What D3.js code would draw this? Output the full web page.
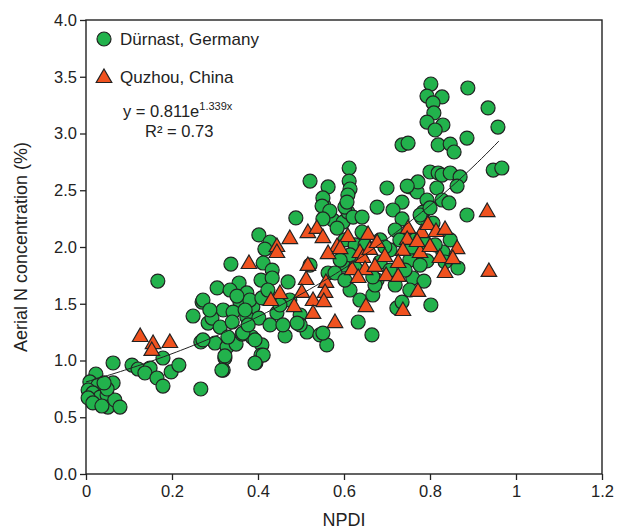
<!DOCTYPE html>
<html>
<head>
<meta charset="utf-8">
<script src="https://cdn.jsdelivr.net/npm/d3@7"></script>
<style>
  body { margin: 0; background: #fff; }
  text { font-family: "Liberation Sans", Arial, sans-serif; fill: #222; }
</style>
</head>
<body>
<script>
// Dürnast, Germany (circles): [NPDI, N %]
const durnast = [
  [0.063,0.978],[0.023,0.881],[0.009,0.811],[0.028,0.784],[0.063,0.802],[0.005,0.740],[0.016,0.714],
  [0.033,0.678],[0.049,0.696],[0.005,0.670],[0.016,0.626],[0.051,0.590],[0.037,0.599],[0.067,0.652],
  [0.079,0.590],[0.049,0.749],[0.107,0.960],[0.121,0.925],[0.149,0.934],[0.137,0.890],[0.179,1.022],
  [0.165,0.846],[0.179,0.775],[0.198,0.899],[0.216,0.960],[0.267,0.749],[0.267,1.163],[0.249,1.392],
  [0.270,1.515],[0.284,1.330],[0.300,1.154],[0.328,1.119],[0.323,1.022],[0.319,0.916],[0.349,1.145],
  [0.363,1.233],[0.386,1.207],[0.409,1.137],[0.407,1.048],[0.395,0.978],[0.167,1.700],[0.042,0.802],
  [0.402,2.106],[0.428,2.044],[0.416,1.982],[0.337,1.850],[0.412,1.859],[0.433,1.797],[0.407,1.709],
  [0.356,1.683],[0.305,1.639],[0.374,1.595],[0.335,1.621],[0.470,1.692],[0.433,1.727],[0.272,1.533],
  [0.358,1.515],[0.388,1.471],[0.319,1.445],[0.342,1.427],[0.293,1.374],[0.374,1.383],[0.402,1.374],
  [0.444,1.419],[0.498,1.401],[0.312,1.295],[0.340,1.339],[0.272,1.181],[0.330,1.207],[0.365,1.242],
  [0.393,1.181],[0.463,1.216],[0.514,1.251],[0.544,1.225],[0.560,1.137],[0.498,1.313],[0.323,1.040],
  [0.412,1.048],[0.563,1.771],[0.521,1.841],[0.488,2.256],[0.553,2.370],[0.563,2.282],[0.574,2.238],
  [0.598,2.220],[0.609,2.308],[0.602,2.352],[0.621,2.264],[0.642,2.264],[0.677,2.352],[0.735,2.396],
  [0.714,2.326],[0.598,1.841],[0.614,1.621],[0.637,1.533],[0.667,1.577],[0.677,1.709],[0.723,1.463],
  [0.633,1.339],[0.551,1.242],[0.665,1.225],[0.491,1.330],[0.393,0.978],[0.316,0.916],[0.381,1.533],
  [0.409,1.551],[0.423,1.621],[0.370,1.445],[0.351,1.568],[0.288,1.445],[0.428,1.313],[0.458,1.313],
  [0.474,1.533],[0.451,1.489],[0.377,1.313],[0.735,2.899],[0.749,2.916],[0.612,2.696],[0.612,2.581],
  [0.614,2.511],[0.609,2.458],[0.607,2.396],[0.521,2.581],[0.563,2.529],[0.551,2.432],[0.549,2.361],
  [0.567,2.317],[0.551,2.247],[0.700,2.520],[0.735,2.247],[0.753,2.529],[0.770,2.485],[0.772,2.573],
  [0.793,2.414],[0.800,2.661],[0.819,2.652],[0.784,2.308],[0.781,2.256],[0.802,3.436],[0.888,3.401],
  [0.793,3.330],[0.828,3.322],[0.807,3.269],[0.809,3.181],[0.793,3.101],[0.830,3.075],[0.812,3.031],
  [0.935,3.225],[0.958,3.057],[0.886,2.960],[0.819,2.899],[0.847,2.907],[0.856,2.837],[0.828,2.634],
  [0.847,2.652],[0.870,2.617],[0.863,2.537],[0.816,2.520],[0.947,2.678],[0.967,2.696],[0.747,2.537],
  [0.828,2.414],[0.844,2.388],[0.777,2.282],[0.886,2.282],[0.830,1.956],[0.793,1.877],[0.865,1.815],
  [0.760,1.727],[0.786,1.700],[0.735,1.515],[0.802,1.489],[0.807,2.211],[0.800,2.344],[0.602,2.062],
  [0.626,2.018],[0.684,2.062],[0.707,1.974],[0.719,2.150],[0.753,1.885],[0.765,2.062],[0.812,2.018],
  [0.614,1.930],[0.649,2.018],[0.684,1.868],[0.707,1.797],[0.742,1.797],[0.591,1.885],[0.579,1.771],
  [0.602,1.709],[0.626,1.815],[0.672,1.665],[0.719,1.665],[0.753,1.621],[0.777,1.841],[0.847,2.062],
  [0.835,1.868],[0.584,2.167],[0.695,2.000],[0.758,2.000],[0.788,2.035],[0.667,1.736],[0.730,2.062],
  [0.642,2.132]
];

// Quzhou, China (triangles): [NPDI, N %]
const quzhou = [
  [0.126,1.207],[0.156,1.145],[0.153,1.084],[0.195,1.154],[0.379,1.850],[0.444,2.000],[0.444,1.947],
  [0.474,2.070],[0.516,2.123],[0.537,2.159],[0.551,2.079],[0.584,2.000],[0.563,1.938],[0.516,1.833],
  [0.512,1.709],[0.558,1.683],[0.451,1.586],[0.430,1.524],[0.502,1.595],[0.528,1.524],[0.556,1.595],
  [0.553,1.515],[0.484,1.471],[0.528,1.410],[0.579,1.330],[0.609,2.088],[0.591,1.982],[0.656,2.106],
  [0.637,1.947],[0.644,1.903],[0.660,1.974],[0.677,2.035],[0.749,2.159],[0.781,2.123],[0.795,2.194],
  [0.814,2.132],[0.835,2.150],[0.747,2.062],[0.737,1.965],[0.777,1.947],[0.800,2.000],[0.823,1.903],
  [0.695,1.912],[0.726,1.859],[0.619,1.797],[0.649,1.797],[0.672,1.824],[0.633,1.727],[0.698,1.744],
  [0.726,1.736],[0.772,1.604],[0.651,1.471],[0.737,1.436],[0.863,1.982],[0.853,1.894],[0.835,1.771],
  [0.933,2.308],[0.937,1.780],[0.770,2.044]
];

const xTicks = [0, 0.2, 0.4, 0.6, 0.8, 1, 1.2];
const yTicks = [0, 0.5, 1.0, 1.5, 2.0, 2.5, 3.0, 3.5, 4.0];

// exponential fit shown on the chart
const fitA = 0.811, fitB = 1.339, fitRange = [0, 0.967];

const width = 617, height = 530;
const margin = { top: 20, right: 15, bottom: 56, left: 86 };
const plotW = width - margin.left - margin.right;
const plotH = height - margin.top - margin.bottom;

const svg = d3.select('body').append('svg')
  .attr('width', width)
  .attr('height', height);

const g = svg.append('g')
  .attr('transform', `translate(${margin.left},${margin.top})`);

const x = d3.scaleLinear().domain([0, 1.2]).range([0, plotW]);
const y = d3.scaleLinear().domain([0, 4]).range([plotH, 0]);

// axes
const xAxis = g.append('g')
  .attr('transform', `translate(0,${plotH})`)
  .call(d3.axisBottom(x).tickValues(xTicks).tickSize(6).tickSizeOuter(0).tickPadding(5)
    .tickFormat(d => d3.format('')(d)));
const yAxis = g.append('g')
  .call(d3.axisLeft(y).tickValues(yTicks).tickSize(6).tickSizeOuter(0).tickPadding(3)
    .tickFormat(d3.format('.1f')));

[xAxis, yAxis].forEach(a => {
  a.select('.domain').remove();
  a.selectAll('line').attr('stroke', '#222').attr('stroke-width', 1.3);
  a.selectAll('text').style('font-size', '16.5px').attr('fill', '#222');
});

// frame
g.append('rect')
  .attr('width', plotW)
  .attr('height', plotH)
  .attr('fill', 'none')
  .attr('stroke', '#222')
  .attr('stroke-width', 1.4);

// points: circles first, triangles on top
g.selectAll('circle.pt')
  .data(durnast)
  .enter()
  .append('circle')
  .attr('class', 'pt')
  .attr('cx', d => x(d[0]))
  .attr('cy', d => y(d[1]))
  .attr('r', 7)
  .attr('fill', '#22b24c')
  .attr('stroke', '#222')
  .attr('stroke-width', 1.2);

const tri = d3.symbol().type(d3.symbolTriangle).size(105);
g.selectAll('path.tri')
  .data(quzhou)
  .enter()
  .append('path')
  .attr('class', 'tri')
  .attr('d', tri)
  .attr('transform', d => `translate(${x(d[0])},${y(d[1])})`)
  .attr('fill', '#f0521f')
  .attr('stroke', '#222')
  .attr('stroke-width', 1.2);

// fitted curve
const fitXs = d3.range(fitRange[0], fitRange[1] + 0.0001, 0.01);
g.append('path')
  .datum(fitXs)
  .attr('fill', 'none')
  .attr('stroke', '#222')
  .attr('stroke-width', 1)
  .attr('d', d3.line().x(d => x(d)).y(d => y(fitA * Math.exp(fitB * d))));

// legend
const legend = g.append('g');
legend.append('circle').attr('cx', 18).attr('cy', 19).attr('r', 7)
  .attr('fill', '#22b24c').attr('stroke', '#222').attr('stroke-width', 1.2);
legend.append('text').attr('x', 34).attr('y', 25).style('font-size', '17px').text('Dürnast, Germany');
legend.append('path').attr('d', tri).attr('transform', 'translate(18,58)')
  .attr('fill', '#f0521f').attr('stroke', '#222').attr('stroke-width', 1.2);
legend.append('text').attr('x', 34).attr('y', 63).style('font-size', '17px').text('Quzhou, China');

const eq = legend.append('text').attr('x', 37).attr('y', 97).style('font-size', '16.5px');
eq.append('tspan').text('y = 0.811e');
eq.append('tspan').attr('dy', -7).style('font-size', '11px').text('1.339x');
legend.append('text').attr('x', 59).attr('y', 117).style('font-size', '16.5px').text('R² = 0.73');

// axis titles
svg.append('text')
  .attr('x', margin.left + x(0.6))
  .attr('y', 526)
  .attr('text-anchor', 'middle')
  .style('font-size', '18px')
  .text('NPDI');

svg.append('text')
  .attr('transform', `translate(27,${margin.top + plotH / 2}) rotate(-90)`)
  .attr('text-anchor', 'middle')
  .style('font-size', '18px')
  .text('Aerial N concentration (%)');
</script>
</body>
</html>
